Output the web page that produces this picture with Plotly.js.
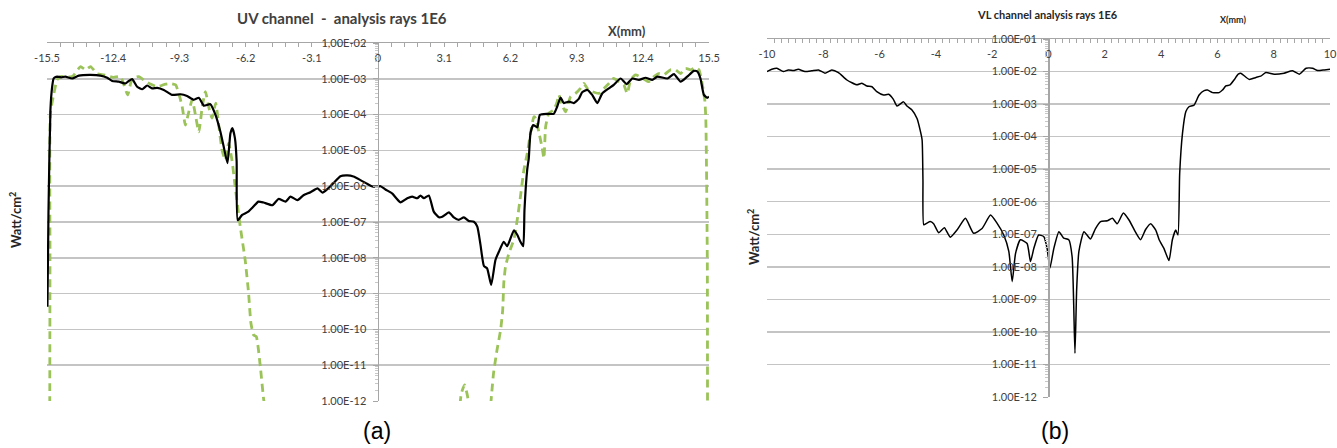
<!DOCTYPE html>
<html>
<head>
<meta charset="utf-8">
<script src="https://cdn.plot.ly/plotly-3.0.1.min.js"></script>
<style>
html,body{margin:0;padding:0;background:#fff;}
#chart{width:1337px;height:448px;}
</style>
</head>
<body>
<div id="chart"></div>
<script>
// ---------- DATA ----------
// (a) UV channel - analysis rays 1E6
const uvBlackX = [-15.48,-15.43,-15.34,-15.26,-15.19,-15.1,-15.03,-14.84,-14.64,-14.32,-14.01,-13.46,-13.0,-12.68,-12.45,-12.14,-11.83,-11.67,-11.51,-11.28,-11.04,-10.81,-10.58,-10.34,-10.03,-9.64,-9.25,-8.94,-8.63,-8.39,-8.16,-7.85,-7.61,-7.38,-7.24,-7.05,-6.91,-6.82,-6.7,-6.62,-6.57,-6.36,-6.07,-5.83,-5.6,-5.36,-4.94,-4.66,-4.33,-4.1,-3.77,-3.49,-3.16,-2.83,-2.6,-2.32,-2.08,-1.76,-1.43,-1.15,-0.82,-0.49,-0.26,0.0,0.12,0.35,0.66,1.05,1.37,1.6,1.84,1.99,2.15,2.38,2.61,2.85,3.01,3.32,3.55,3.78,4.02,4.25,4.49,4.65,4.8,4.96,5.11,5.3,5.5,5.66,5.89,6.05,6.36,6.52,6.67,6.8,6.86,6.99,7.06,7.14,7.27,7.46,7.58,7.93,8.23,8.39,8.55,8.7,8.94,9.17,9.41,9.56,9.8,10.03,10.27,10.5,10.81,11.04,11.36,11.64,11.91,12.22,12.53,12.84,13.08,13.55,13.86,14.17,14.48,14.79,14.95,15.1,15.26,15.42,15.5];
const uvBlackY = [4.3e-10,2.0e-7,1.35e-4,5.9e-4,1.02e-3,1.12e-3,1.15e-3,1.1e-3,1.15e-3,1.02e-3,1.23e-3,1.29e-3,1.23e-3,1.07e-3,8.7e-4,8.3e-4,7.4e-4,8.7e-4,9.8e-4,6.0e-4,5.1e-4,6.5e-4,5.4e-4,5.6e-4,4.9e-4,3.55e-4,3.7e-4,3.3e-4,2.6e-4,2.95e-4,1.78e-4,1.95e-4,9.8e-5,3.3e-5,1.4e-5,4.4e-6,3.0e-5,4.2e-5,2.2e-5,5e-6,1.12e-7,1.58e-7,1.95e-7,2.7e-7,3.7e-7,3.5e-7,2.95e-7,4.4e-7,3.7e-7,5.1e-7,4.1e-7,5.6e-7,6.8e-7,8.7e-7,6.6e-7,8.9e-7,1.23e-6,1.9e-6,2.0e-6,1.86e-6,1.48e-6,1.15e-6,9.8e-7,9.8e-7,1.0e-6,8.1e-7,6.3e-7,3.55e-7,4.6e-7,5.1e-7,4.6e-7,5.5e-7,4.6e-7,5.5e-7,1.95e-7,1.35e-7,1.4e-7,1.86e-7,1.35e-7,1.15e-7,1.35e-7,1.07e-7,1.02e-7,7.4e-8,2.3e-8,5.9e-9,5.1e-9,1.74e-9,8.7e-9,1.48e-8,2.8e-8,2.1e-8,5.8e-8,4.4e-8,2.8e-8,2.1e-8,2.2e-7,3.0e-6,6.0e-6,3.0e-5,5.1e-5,4.4e-5,9.8e-5,1.05e-4,1.05e-4,1.66e-4,3.0e-4,2.1e-4,2.3e-4,2.1e-4,2.8e-4,4.2e-4,4.9e-4,3.55e-4,2.1e-4,3.9e-4,5.4e-4,6.8e-4,1.02e-3,7.1e-4,1.02e-3,9.3e-4,1.07e-3,9.3e-4,1.15e-3,1.02e-3,1.35e-3,8.3e-4,1.15e-3,1.66e-3,1.6e-3,1.02e-3,3.55e-4,2.95e-4,3.16e-4];

const uvGreenX = [-15.37,-15.36,-15.34,-15.19,-15.03,-14.87,-14.32,-13.93,-13.7,-13.46,-13.16,-12.84,-12.4,-12.06,-11.9,-11.72,-11.51,-11.2,-10.97,-10.66,-10.34,-9.95,-9.72,-9.48,-9.33,-9.17,-9.02,-8.86,-8.7,-8.55,-8.39,-8.23,-8.08,-7.93,-7.77,-7.6,-7.45,-7.3,-7.15,-7.0,-6.84,-6.69,-6.53,-6.45,-6.37,-6.22,-6.06,-5.95,-5.82,-5.7,-5.51,-5.35,-5.3,null,3.84,3.9,4.05,4.18,4.25,null,5.28,5.41,5.57,5.74,5.84,5.89,5.97,6.13,6.36,6.52,6.67,6.83,6.99,7.14,7.3,7.38,7.53,7.69,7.77,7.85,8.0,8.23,8.39,8.47,8.6,8.78,9.02,9.25,9.48,9.64,9.8,10.03,10.34,10.58,10.81,11.04,11.28,11.51,11.67,11.83,12.06,12.37,12.68,12.92,13.15,13.39,13.7,13.93,14.17,14.4,14.64,14.87,15.03,15.19,15.3,15.35,15.42,15.43];
const uvGreenY = [8e-13,1e-8,1.1e-4,3.55e-4,9.3e-4,1.15e-3,1.15e-3,2.2e-3,1.78e-3,2.2e-3,1.4e-3,1.29e-3,1.1e-3,1.15e-3,6.8e-4,3.55e-4,1.02e-3,1.15e-3,9.3e-4,7.1e-4,6.0e-4,7.1e-4,7.4e-4,6.8e-4,3.9e-4,1.66e-4,5.1e-5,1.2e-4,2.6e-4,9.8e-5,3.3e-5,1.66e-4,4.4e-4,1.66e-4,8e-5,2.1e-4,4.6e-5,1.0e-5,5.4e-6,1.58e-5,5.4e-6,9.8e-7,1.74e-7,7.4e-8,3.5e-8,8.7e-9,1.02e-9,1.48e-10,6.9e-11,6.3e-11,9.1e-12,1.07e-12,8e-13,null,8e-13,1.6e-12,2.8e-12,1.5e-12,8e-13,null,8e-13,5.9e-12,2.6e-11,9.5e-11,3.5e-10,1.95e-9,5.6e-9,1.35e-8,3.2e-8,1.15e-7,5.1e-7,2.8e-6,8.3e-6,3.0e-5,8.7e-5,7.9e-5,3.3e-5,1.15e-5,6.0e-6,4.6e-5,1.1e-4,1.35e-4,2.3e-4,3.55e-4,2.0e-4,1.2e-4,3.16e-4,3.9e-4,5.4e-4,7.4e-4,5.4e-4,4.4e-4,3.9e-4,5.4e-4,7.4e-4,1.02e-3,8.3e-4,6.8e-4,3.9e-4,9.3e-4,1.29e-3,1.05e-3,8.3e-4,1.15e-3,1.4e-3,1.3e-3,1.78e-3,1.78e-3,1.4e-3,1.95e-3,1.78e-3,2.05e-3,1.78e-3,6.8e-4,2.6e-4,8e-5,1e-8,8e-13];

// (b) VL channel analysis rays 1E6
const vlX = [-10.0,-9.83,-9.65,-9.42,-9.24,-9.06,-8.89,-8.65,-8.41,-8.17,-7.94,-7.7,-7.46,-7.16,-6.81,-6.63,-6.45,-6.27,-6.1,-5.86,-5.68,-5.51,-5.38,-5.15,-5.03,-4.85,-4.67,-4.56,-4.49,-4.46,-4.43,-4.32,-4.2,-4.08,-3.9,-3.7,-3.49,-3.25,-2.95,-2.66,-2.36,-2.06,-1.83,-1.59,-1.41,-1.29,-1.17,-1.0,-0.76,-0.64,-0.52,-0.35,-0.17,-0.05,0.05,0.19,0.37,0.54,0.72,0.84,0.94,1.0,1.08,1.26,1.49,1.67,1.85,2.09,2.27,2.44,2.66,2.86,3.1,3.27,3.45,3.63,3.81,3.93,4.1,4.28,4.4,4.52,4.6,4.66,4.76,4.88,4.99,5.17,5.35,5.53,5.65,5.83,6.06,6.18,6.3,6.45,6.59,6.74,6.83,7.13,7.37,7.54,7.72,8.02,8.37,8.67,8.91,9.15,9.38,9.56,9.8,10.0];
const vlY = [1.0e-2,1.17e-2,1.26e-2,1.0e-2,1.12e-2,1.07e-2,1.17e-2,1.0e-2,1.05e-2,1.12e-2,8.9e-3,1.12e-2,9.3e-3,5.5e-3,3.9e-3,4.4e-3,3.6e-3,3.4e-3,2.4e-3,1.9e-3,2.0e-3,1.4e-3,8.7e-4,1.17e-3,8.7e-4,6.6e-4,3.6e-4,1.58e-4,7.9e-5,4.7e-6,1.95e-7,2.2e-7,2.45e-7,2.1e-7,1.12e-7,1.58e-7,8.1e-8,1.35e-7,3.1e-7,1.07e-7,1.5e-7,3.9e-7,2.2e-7,9.5e-8,3.0e-8,3.5e-9,2.6e-8,6.8e-8,5.2e-8,1.45e-8,3.7e-8,9.5e-8,8.5e-8,3.7e-8,9.1e-9,3.7e-8,1.2e-7,7.6e-8,6.8e-8,2.0e-8,2.2e-11,1.95e-9,3.0e-8,1.2e-7,7.2e-8,1.5e-7,2.45e-7,2.6e-7,3.1e-7,2.1e-7,4.5e-7,2.75e-7,1.12e-7,6.8e-8,1.4e-7,2.1e-7,1.35e-7,6.8e-8,3.7e-8,1.55e-8,6.8e-8,1.35e-7,9.5e-8,7.4e-6,1.26e-4,5.9e-4,8.3e-4,9.3e-4,1.9e-3,2.6e-3,2.7e-3,2.25e-3,2.25e-3,2.7e-3,3.6e-3,3.9e-3,5.5e-3,8.3e-3,8.9e-3,5.75e-3,6.6e-3,7.2e-3,9.3e-3,8.3e-3,8.9e-3,1.05e-2,8.3e-3,1.26e-2,1.26e-2,1.07e-2,1.12e-2,1.17e-2];

// tick labels
const uvXTickVals = [-15.5,-12.4,-9.3,-6.2,-3.1,0,3.1,6.2,9.3,12.4,15.5];
const uvXTickText = ['-15.5','-12.4','-9.3','-6.2','-3.1','0','3.1','6.2','9.3','12.4','15.5'];
const uvYTickVals = [1e-2,1e-3,1e-4,1e-5,1e-6,1e-7,1e-8,1e-9,1e-10,1e-11,1e-12];
const uvYTickText = ['1,00E-02','1.00E-03','1.00E-04','1.00E-05','1.00E-06','1.00E-07','1.00E-08','1.00E-09','1.00E-10','1.00E-11','1.00E-12'];
const vlXTickVals = [-10,-8,-6,-4,-2,0,2,4,6,8,10];
const vlXTickText = ['-10','-8','-6','-4','-2','0','2','4','6','8','10'];
const vlYTickVals = [1e-1,1e-2,1e-3,1e-4,1e-5,1e-6,1e-7,1e-8,1e-9,1e-10,1e-11,1e-12];
const vlYTickText = ['1.00E-01','1.00E-02','1.00E-03','1.00E-04','1.00E-05','1.00E-06','1.00E-07','1.00E-08','1.00E-09','1.00E-10','1.00E-11','1.00E-12'];

// ---------- LAYOUT HELPERS ----------
const W = 1337, H = 448;
const px = v => v / W;
const py = v => 1 - v / H;
const FONT = 'Lato, "Liberation Sans", Arial, sans-serif';
const AXC = '#a6a6a6';
const GRID = '#c4c4c4';
const TICKF = {family: FONT, size: 11, color: '#404040'};

const traces = [
  {x: uvGreenX, y: uvGreenY, xaxis: 'x', yaxis: 'y', type: 'scatter', mode: 'lines',
   line: {color: '#9bc35a', width: 2.8, dash: '8px,5px', shape: 'spline', smoothing: 0.5},
   connectgaps: false, hoverinfo: 'skip'},
  {x: uvBlackX, y: uvBlackY, xaxis: 'x', yaxis: 'y', type: 'scatter', mode: 'lines',
   line: {color: '#000000', width: 2.2, shape: 'spline', smoothing: 0.5}, hoverinfo: 'skip'},
  {x: vlX, y: vlY, xaxis: 'x2', yaxis: 'y2', type: 'scatter', mode: 'lines',
   line: {color: '#000000', width: 1.5, shape: 'spline', smoothing: 0.5}, hoverinfo: 'skip'}
];

function xAx(dom, range, vals, text, anchor, minorDt) {
  return {domain: dom, range: range, side: 'top', anchor: anchor,
    tickmode: 'array', tickvals: vals, ticktext: text,
    ticklabelposition: 'inside', ticklabeloverflow: 'allow', ticklabelstandoff: 7,
    ticks: 'inside', ticklen: 4, tickcolor: AXC, tickwidth: 1,
    showline: true, linecolor: AXC, linewidth: 1.5, mirror: false,
    showgrid: false, zeroline: false, tickfont: TICKF,
    minor: {tickmode: 'linear', tick0: 0, dtick: minorDt, ticks: 'inside', ticklen: 4, tickcolor: AXC, showgrid: false},
    fixedrange: true};
}
function yAx(dom, range, vals, text, pos) {
  return {domain: dom, type: 'log', range: range, anchor: 'free', position: pos, side: 'left',
    tickmode: 'array', tickvals: vals, ticktext: text, ticklabeloverflow: 'allow',
    ticks: 'outside', ticklen: 5, tickcolor: AXC, tickwidth: 1, ticklabelstandoff: 4,
    showline: true, linecolor: AXC, linewidth: 1.5,
    showgrid: true, gridcolor: GRID, gridwidth: 1.5, zeroline: false, tickfont: TICKF,
    minor: {dtick: 'D1', ticks: 'outside', ticklen: 3, tickcolor: '#c8c8c8', showgrid: false},
    fixedrange: true};
}

const layout = {
  width: W, height: H, margin: {l: 0, r: 0, t: 0, b: 0, pad: 0},
  paper_bgcolor: '#ffffff', plot_bgcolor: 'rgba(0,0,0,0)', showlegend: false,
  font: {family: FONT},
  xaxis: xAx([px(47), px(709)], [-15.5, 15.5], uvXTickVals, uvXTickText, 'y', 0.62),
  yaxis: yAx([1 - 401 / H, 1 - 43 / H], [-12, -2], uvYTickVals, uvYTickText, px(377.5)),
  xaxis2: xAx([px(767), px(1330)], [-10, 10], vlXTickVals, vlXTickText, 'y2', 0.25),
  yaxis2: yAx([1 - 397 / H, 1 - 39 / H], [-12, -1], vlYTickVals, vlYTickText, px(1048)),
  annotations: [
    {text: '<b>UV channel\u00a0\u00a0-\u00a0\u00a0analysis rays 1E6</b>', x: px(342), y: py(18), xref: 'paper', yref: 'paper',
     xanchor: 'center', yanchor: 'middle', showarrow: false, font: {family: FONT, size: 15, color: '#404040'}},
    {text: '<b>X(mm)</b>', x: px(627), y: py(31), xref: 'paper', yref: 'paper',
     xanchor: 'center', yanchor: 'middle', showarrow: false, font: {family: FONT, size: 13, color: '#404040'}},
    {text: '<b>Watt/cm<sup>2</sup></b>', x: px(15), y: py(220), xref: 'paper', yref: 'paper', textangle: -90,
     xanchor: 'center', yanchor: 'middle', showarrow: false, font: {family: FONT, size: 13, color: '#262626'}},
    {text: '(a)', x: px(377), y: py(431), xref: 'paper', yref: 'paper',
     xanchor: 'center', yanchor: 'middle', showarrow: false, font: {family: '"Liberation Sans", Arial, sans-serif', size: 23, color: '#000'}},
    {text: '<b>VL channel analysis rays 1E6</b>', x: px(1047), y: py(14), xref: 'paper', yref: 'paper',
     xanchor: 'center', yanchor: 'middle', showarrow: false, font: {family: FONT, size: 11, color: '#262626'}},
    {text: '<b>X(mm)</b>', x: px(1233), y: py(19), xref: 'paper', yref: 'paper',
     xanchor: 'center', yanchor: 'middle', showarrow: false, font: {family: FONT, size: 9, color: '#262626'}},
    {text: '<b>Watt/cm<sup>2</sup></b>', x: px(754), y: py(237), xref: 'paper', yref: 'paper', textangle: -90,
     xanchor: 'center', yanchor: 'middle', showarrow: false, font: {family: FONT, size: 13, color: '#262626'}},
    {text: '(b)', x: px(1055), y: py(431), xref: 'paper', yref: 'paper',
     xanchor: 'center', yanchor: 'middle', showarrow: false, font: {family: '"Liberation Sans", Arial, sans-serif', size: 23, color: '#000'}}
  ]
};

Plotly.newPlot('chart', traces, layout, {staticPlot: true, displayModeBar: false});
</script>
</body>
</html>
